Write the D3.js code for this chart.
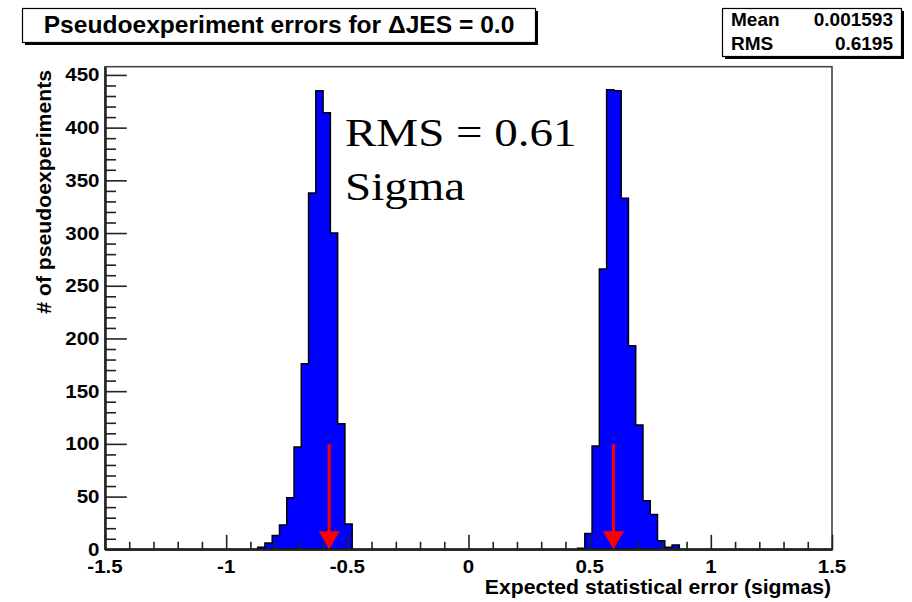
<!DOCTYPE html>
<html><head><meta charset="utf-8">
<script src="https://cdn.jsdelivr.net/npm/d3@7"></script>
<style>body{margin:0;background:#fff}svg{display:block}</style>
</head><body>
<svg id="c" width="912" height="602"></svg>
<script>
// ---- data ----
const binWidth = 0.03;
const leftPeakStart = -0.87;
const leftPeakCounts = [2, 6, 13, 23, 49, 97, 176, 338, 435, 414, 300, 119, 24];
const rightPeakStart = 0.45;
const rightPeakCounts = [1, 15, 98, 266, 436, 435, 333, 193, 118, 46, 33, 8, 2, 4];
const arrowPositions = [-0.575, 0.598];
const arrowTopCount = 100;
const xMajorTicks = [-1.5, -1, -0.5, 0, 0.5, 1, 1.5];
const xTickLabels = ["-1.5", "-1", "-0.5", "0", "0.5", "1", "1.5"];
const yMajorTicks = [0, 50, 100, 150, 200, 250, 300, 350, 400, 450];
const titleText = "Pseudoexperiment errors for \u0394JES = 0.0";
const statNames = ["Mean", "RMS"];
const statValues = ["0.001593", "0.6195"];
const noteLines = ["RMS = 0.61", "Sigma"];
const xTitle = "Expected statistical error (sigmas)";
const yTitle = "# of pseudoexperiments";

// ---- build histogram ----
const nBins = 100, xLo = -1.5, xHi = 1.5;
const counts = new Array(nBins).fill(0);
leftPeakCounts.forEach((c, i) => { counts[Math.round((leftPeakStart - xLo) / binWidth) + i] = c; });
rightPeakCounts.forEach((c, i) => { counts[Math.round((rightPeakStart - xLo) / binWidth) + i] = c; });
const pts = counts.map((c, i) => ({x: xLo + i * binWidth, c}));
pts.push({x: xHi, c: counts[nBins - 1]});
const ymax = 1.05 * d3.max(counts);

const svg = d3.select("#c");
svg.append("rect").attr("width", 912).attr("height", 602).attr("fill", "#fff");

const x = d3.scaleLinear([xLo, xHi], [105, 832]);
const y = d3.scaleLinear([0, ymax], [549.3, 66.7]);
const sans = "'Liberation Sans', Arial, Helvetica, sans-serif";

function stext(g, tx, ty, str, size, anchor, opts = {}) {
  return g.append("text")
    .attr("transform", `translate(${tx},${ty}) ${opts.rot ? "rotate(" + opts.rot + ")" : ""} scale(${opts.sx || 1},1)`)
    .attr("text-anchor", anchor)
    .attr("font-family", opts.family || sans)
    .attr("font-weight", opts.weight || "bold")
    .attr("font-size", size)
    .attr("fill", "#000")
    .text(str);
}

// frame
svg.append("rect").attr("x", x(xLo)).attr("y", y(ymax)).attr("width", x(xHi) - x(xLo)).attr("height", y(0) - y(ymax))
  .attr("fill", "none").attr("stroke", "#444").attr("stroke-width", 1.6);

// histogram
const area = d3.area().curve(d3.curveStepAfter).x(d => x(d.x)).y0(y(0)).y1(d => y(d.c));
svg.append("path").datum(pts).attr("d", area).attr("fill", "#0000ff").attr("stroke", "#000").attr("stroke-width", 1.5);

// axes
const axStyle = g => {
  g.selectAll("path.domain").attr("stroke", "#222").attr("stroke-width", 2);
  g.selectAll(".tick line").attr("stroke", "#222").attr("stroke-width", 1.6);
};
const xMinor = d3.range(-14, 16).map(v => v / 10).filter(v => Math.abs(v * 2 - Math.round(v * 2)) > 1e-6);
svg.append("g").attr("transform", `translate(0,${y(0)})`)
  .call(d3.axisBottom(x).tickValues(xMinor).tickSize(-7.5).tickSizeOuter(0).tickFormat(""))
  .call(axStyle);
svg.append("g").attr("transform", `translate(0,${y(0)})`)
  .call(d3.axisBottom(x).tickValues(xMajorTicks).tickSize(-14.5).tickSizeOuter(0).tickFormat(""))
  .call(axStyle);
xMajorTicks.forEach((v, i) => stext(svg, x(v), 573, xTickLabels[i], 19, "middle", {sx: 1.08}));

const yMinor = d3.range(0, 460, 10).filter(v => v % 50 !== 0);
svg.append("g").attr("transform", `translate(${x(xLo)},0)`)
  .call(d3.axisLeft(y).tickValues(yMinor).tickSize(-11).tickSizeOuter(0).tickFormat(""))
  .call(axStyle);
svg.append("g").attr("transform", `translate(${x(xLo)},0)`)
  .call(d3.axisLeft(y).tickValues(yMajorTicks).tickSize(-21.8).tickSizeOuter(0).tickFormat(""))
  .call(axStyle);
yMajorTicks.forEach(v => stext(svg, 99.5, y(v) + 6.5, String(v), 19, "end", {sx: 1.08}));

// axis titles
stext(svg, 831, 594, xTitle, 20, "end", {sx: 1.06});
stext(svg, 51, 70, yTitle, 20, "end", {rot: -90, sx: 1.06});

// arrows
arrowPositions.forEach(a => {
  const xa = x(a), headH = 18, headW = 21;
  svg.append("line").attr("x1", xa).attr("x2", xa).attr("y1", y(arrowTopCount)).attr("y2", y(0) - headH + 2)
    .attr("stroke", "#ff0000").attr("stroke-width", 3);
  svg.append("path").attr("d", `M${xa - headW / 2},${y(0) - headH}L${xa + headW / 2},${y(0) - headH}L${xa},${y(0)}Z`)
    .attr("fill", "#ff0000");
});

// annotation
const serif = "'Liberation Serif', 'Times New Roman', serif";
noteLines.forEach((s, i) => stext(svg, 345, 146 + i * 54, s, 39.5, "start", {family: serif, weight: "normal", sx: 1.19}));

// title box
svg.append("rect").attr("x", 25).attr("y", 11).attr("width", 513).attr("height", 34).attr("fill", "#000");
svg.append("rect").attr("x", 22.5).attr("y", 8.5).attr("width", 513).attr("height", 34).attr("fill", "#fff").attr("stroke", "#000").attr("stroke-width", 1.2);
stext(svg, 279, 33, titleText, 23, "middle", {sx: 1.07});

// stats box
svg.append("rect").attr("x", 725).attr("y", 11).attr("width", 179).attr("height", 48).attr("fill", "#000");
svg.append("rect").attr("x", 722.5).attr("y", 8.5).attr("width", 179).attr("height", 48).attr("fill", "#fff").attr("stroke", "#000").attr("stroke-width", 1.2);
statNames.forEach((s, i) => {
  stext(svg, 731, 26 + i * 24, s, 19, "start");
  stext(svg, 893, 26 + i * 24, statValues[i], 19, "end");
});
</script>
</body></html>
